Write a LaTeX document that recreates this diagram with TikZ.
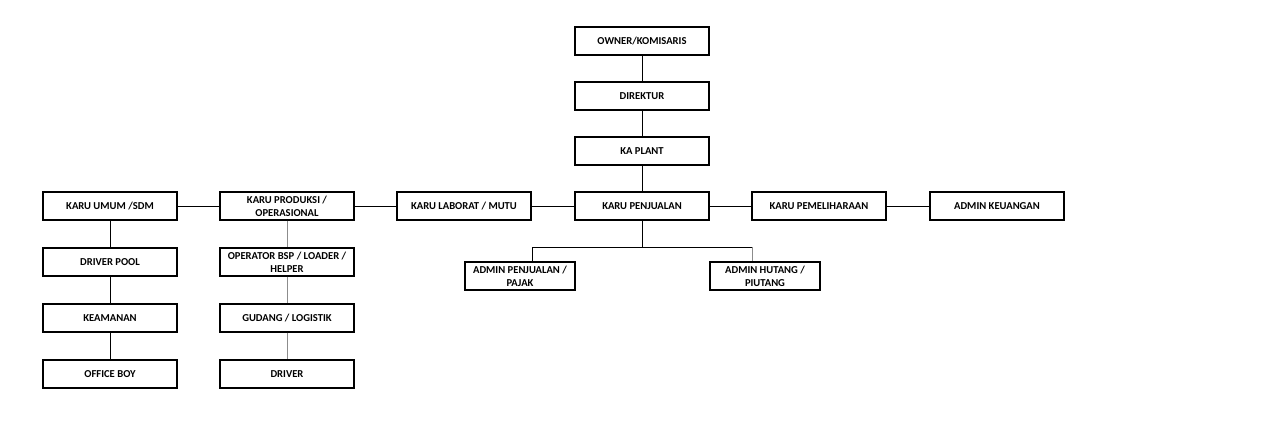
\documentclass[tikz,border=0pt]{standalone}
\usepackage{fontspec}
\setmainfont{Carlito}
\usetikzlibrary{positioning}

\tikzset{
  jabatan/.style={draw, line width=1.3pt, minimum width=134pt, minimum height=28pt,
    inner sep=0pt, align=center, font=\bfseries\fontsize{10.6}{13}\selectfont},
  admin/.style={jabatan, minimum width=110pt},
  garis/.style={line width=0.8pt},
  abu/.style={garis, draw=black!45}
}

\begin{document}
\begin{tikzpicture}[x=1pt, y=-1pt]
  \useasboundingbox (0,0) rectangle (1280,428);

  % pimpinan
  \node[jabatan] (owner) at (642,41) {OWNER/KOMISARIS};
  \node[jabatan] (direktur) at (642,96) {DIREKTUR};
  \node[jabatan] (plant) at (642,151) {KA PLANT};

  % kepala regu
  \node[jabatan] (umum) at (110,206) {KARU UMUM /SDM};
  \node[jabatan] (produksi) at (287,206) {KARU PRODUKSI /\\OPERASIONAL};
  \node[jabatan] (laborat) at (464,206) {KARU LABORAT / MUTU};
  \node[jabatan] (penjualan) at (642,206) {KARU PENJUALAN};
  \node[jabatan] (pemeliharaan) at (819,206) {KARU PEMELIHARAAN};
  \node[jabatan] (keuangan) at (997,206) {ADMIN KEUANGAN};

  % bagian umum
  \node[jabatan] (pool) at (110,262) {DRIVER POOL};
  \node[jabatan] (keamanan) at (110,318) {KEAMANAN};
  \node[jabatan] (officeboy) at (110,374) {OFFICE BOY};

  % bagian produksi
  \node[jabatan] (operator) at (287,262) {OPERATOR BSP / LOADER /\\HELPER};
  \node[jabatan] (gudang) at (287,318) {GUDANG / LOGISTIK};
  \node[jabatan] (driver) at (287,374) {DRIVER};

  % bagian penjualan
  \node[admin] (pajak) at (520,276) {ADMIN PENJUALAN /\\PAJAK};
  \node[admin] (hutang) at (765,276) {ADMIN HUTANG /\\PIUTANG};
  \coordinate (cabang) at (642,247);
  \coordinate (kiri) at (532,247);
  \coordinate (kanan) at (752,247);

  \draw[garis] (owner) -- (direktur);
  \draw[garis] (direktur) -- (plant);
  \draw[garis] (plant) -- (penjualan);

  \draw[garis] (umum) -- (produksi);
  \draw[garis] (produksi) -- (laborat);
  \draw[garis] (laborat) -- (penjualan);
  \draw[garis] (penjualan) -- (pemeliharaan);
  \draw[garis] (pemeliharaan) -- (keuangan);

  \draw[garis] (umum) -- (pool);
  \draw[garis] (pool) -- (keamanan);
  \draw[garis] (keamanan) -- (officeboy);

  \draw[abu] (produksi) -- (operator);
  \draw[abu] (operator) -- (gudang);
  \draw[abu] (gudang) -- (driver);

  \draw[garis] (penjualan) -- (cabang);
  \draw[garis] (kiri) -- (kanan);
  \draw[garis] (kiri) -- (kiri |- pajak.north);
  \draw[abu] (kanan) -- (kanan |- hutang.north);
\end{tikzpicture}
\end{document}
